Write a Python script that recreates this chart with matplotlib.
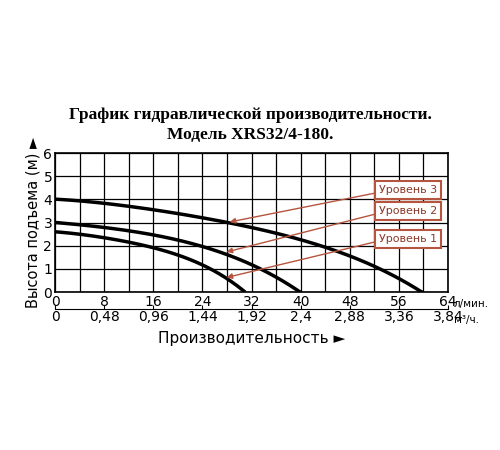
import matplotlib
matplotlib.use("Agg")
import matplotlib.pyplot as plt
import numpy as np

x3 = [0, 8, 16, 24, 28, 32, 40, 48, 52, 56, 60]
y3 = [4.0, 3.85, 3.55, 3.2, 3.0, 2.75, 2.3, 1.6, 1.1, 0.5, 0.0]
x2 = [0, 8, 16, 24, 28, 32, 36, 40]
y2 = [3.0, 2.8, 2.45, 1.95, 1.65, 1.2, 0.6, 0.0]
x1 = [0, 8, 16, 24, 28, 31]
y1 = [2.6, 2.35, 1.9, 1.2, 0.55, 0.0]
labels = ["Уровень 3", "Уровень 2", "Уровень 1"]
label_pos = [(57.5, 4.4), (57.5, 3.5), (57.5, 2.3)]
arrow_to = [(28, 3.0), (27.5, 1.7), (27.5, 0.6)]
xt = [0, 8, 16, 24, 32, 40, 48, 56, 64]
xt2 = ["0", "0,48", "0,96", "1,44", "1,92", "2,4", "2,88", "3,36", "3,84"]

fig = plt.figure(figsize=(5, 4.5), dpi=100)
ax = fig.add_axes([0.11, 0.351, 0.786, 0.309])
fig.text(0.5, 0.735, "График гидравлической производительности.", ha="center",
         family="Liberation Serif", weight="bold", fontsize=12.5)
fig.text(0.5, 0.69, "Модель XRS32/4-180.", ha="center",
         family="Liberation Serif", weight="bold", fontsize=12.5)

def smooth(xs, ys):
    c = np.polyfit(xs, ys, 4)
    xx = np.linspace(xs[0], xs[-1], 200)
    yy = np.polyval(c, xx)
    yy[0], yy[-1] = ys[0], ys[-1]
    return xx, yy

for xs, ys in [(x3, y3), (x2, y2), (x1, y1)]:
    ax.plot(*smooth(xs, ys), color="black", lw=2.5, solid_capstyle="butt")

ax.set_xlim(0, 64); ax.set_ylim(0, 6)
ax.set_xticks(xt)
ax.set_xticks(np.arange(0, 65, 4), minor=True)
ax.set_yticks([0, 1, 2, 3, 4, 5, 6])
ax.grid(True, which="both", color="black", lw=0.9)
ax.tick_params(which="both", length=0, labelsize=10, pad=2)
for s in ax.spines.values():
    s.set_linewidth(1.2)
ax.set_ylabel("Высота подъема (м) ►", fontsize=10.5, labelpad=2)
ax.text(65, -0.5, "л/мин.", fontsize=7.5, va="center")

sec = ax.secondary_xaxis(-0.12)
sec.set_xticks(xt)
sec.set_xticklabels(xt2)
sec.spines["bottom"].set_linewidth(0.8)
sec.tick_params(direction="in", length=3, labelsize=10, pad=1)
ax.text(65, -1.2, "м³/ч.", fontsize=7.5, va="center")
ax.text(32, -2.0, "Производительность ►", fontsize=11, ha="center", va="center")

for lab, (lx, ly), (tx, ty) in zip(labels, label_pos, arrow_to):
    ax.annotate("", xy=(tx, ty), xytext=(lx - 4.8, ly - 0.1),
                arrowprops=dict(arrowstyle="-|>", color="#b5553f", lw=1, mutation_scale=8))
    ax.text(lx, ly, lab, ha="center", va="center", fontsize=8, color="#8a3a2a",
            bbox=dict(boxstyle="square,pad=0.35", fc="white", ec="#b5553f", lw=1.5))

fig.savefig("out.png")
